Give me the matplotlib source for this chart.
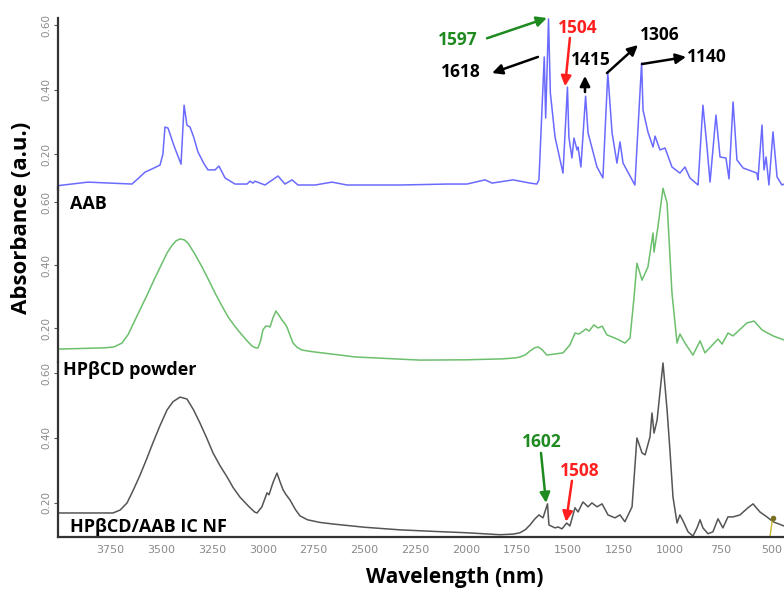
import matplotlib
matplotlib.use("Agg")
import matplotlib.pyplot as plt

plt.rcParams['font.family'] = ['Open Sans', 'DejaVu Sans']

# AAB spectrum (wavenumber, absorbance)
aab_x = [4005, 3858, 3642, 3610, 3578, 3540, 3504, 3490, 3480, 3465, 3435, 3401, 3386, 3372, 3357, 3340,
         3318, 3290, 3269, 3234, 3215, 3185, 3136, 3077, 3062, 3048, 3038, 2989, 2925, 2891, 2856,
         2827, 2743, 2660, 2586, 2326, 2095, 1997, 1909, 1874, 1771, 1688, 1654, 1644, 1618, 1611,
         1597, 1588, 1565, 1526, 1504, 1497, 1482, 1472, 1457, 1452, 1438, 1415, 1403, 1359, 1330,
         1306, 1285, 1261, 1246, 1231, 1173, 1140, 1133, 1109, 1084, 1074, 1050, 1025, 991, 952,
         927, 903, 863, 839, 819, 804, 775, 755, 726, 711, 691, 672, 642, 574, 569, 549,
         539, 529, 515, 495, 475, 451, 441]
aab_y = [0.102, 0.113, 0.107, 0.125, 0.144, 0.155, 0.166, 0.200, 0.284, 0.281, 0.225, 0.169, 0.352, 0.290, 0.284, 0.255,
         0.207, 0.172, 0.151, 0.151, 0.163, 0.126, 0.107, 0.107, 0.116, 0.110, 0.116, 0.104, 0.132, 0.107, 0.120,
         0.104, 0.104, 0.113, 0.104, 0.104, 0.107, 0.107, 0.120, 0.110, 0.120, 0.110, 0.107, 0.120, 0.502, 0.312,
         0.620, 0.390, 0.253, 0.141, 0.408, 0.253, 0.188, 0.250, 0.213, 0.222, 0.160, 0.380, 0.266, 0.160, 0.126,
         0.452, 0.266, 0.172, 0.238, 0.172, 0.104, 0.483, 0.337, 0.269, 0.222, 0.256, 0.213, 0.219, 0.160, 0.141,
         0.160, 0.126, 0.104, 0.352, 0.222, 0.113, 0.321, 0.191, 0.188, 0.123, 0.362, 0.182, 0.157, 0.141, 0.120, 0.290,
         0.151, 0.191, 0.104, 0.269, 0.129, 0.104, 0.107]

# HPbCD powder spectrum
cd_x = [4005, 3774, 3730, 3691, 3660, 3627, 3595, 3563, 3530, 3494, 3470, 3445, 3425, 3406, 3385,
        3367, 3335, 3298, 3265, 3234, 3200, 3170, 3135, 3102, 3075, 3053, 3035, 3023, 3010, 2999,
        2985, 2974, 2964, 2950, 2935, 2920, 2905, 2890, 2881, 2865, 2851, 2830, 2807, 2760, 2709,
        2620, 2547, 2449, 2228, 2000, 1821, 1760, 1737, 1710, 1688, 1665, 1649, 1630, 1605, 1526,
        1492, 1467, 1447, 1413, 1398, 1374, 1354, 1334, 1310, 1271, 1251, 1222, 1197, 1177, 1163,
        1138, 1109, 1084, 1079, 1060, 1035, 1015, 991, 966, 952, 927, 888, 853, 829, 765, 745,
        716, 691, 623, 588, 549, 495, 441]
cd_y = [0.133, 0.137, 0.140, 0.152, 0.180, 0.225, 0.268, 0.311, 0.358, 0.406, 0.438, 0.463, 0.477, 0.483, 0.480,
        0.470, 0.437, 0.394, 0.352, 0.311, 0.270, 0.235, 0.204, 0.178, 0.158, 0.143, 0.137, 0.137, 0.160, 0.194,
        0.206, 0.206, 0.203, 0.232, 0.254, 0.240, 0.225, 0.213, 0.203, 0.175, 0.152, 0.138, 0.130, 0.125, 0.121,
        0.114, 0.108, 0.105, 0.098, 0.099, 0.102, 0.105, 0.108, 0.115, 0.127, 0.137, 0.140, 0.132, 0.114, 0.121,
        0.146, 0.184, 0.181, 0.197, 0.190, 0.210, 0.200, 0.206, 0.178, 0.168, 0.162, 0.152, 0.168, 0.298, 0.406,
        0.352, 0.394, 0.502, 0.441, 0.521, 0.644, 0.597, 0.311, 0.152, 0.181, 0.152, 0.114, 0.159, 0.121, 0.165, 0.149,
        0.184, 0.175, 0.216, 0.222, 0.194, 0.175, 0.162]

# HPbCD/AAB IC NF spectrum
ic_x = [4005, 3735, 3700, 3666, 3635, 3602, 3570, 3539, 3505, 3470, 3440, 3406, 3372, 3340, 3308,
        3275, 3244, 3210, 3175, 3145, 3112, 3070, 3040, 3028, 3004, 2979, 2969, 2950, 2930, 2915,
        2900, 2885, 2866, 2840, 2817, 2780, 2720, 2655, 2500, 2326, 2150, 1997, 1835, 1770, 1737,
        1710, 1688, 1665, 1644, 1624, 1602, 1595, 1565, 1550, 1531, 1508, 1492, 1467, 1452, 1428,
        1403, 1384, 1359, 1334, 1305, 1271, 1246, 1222, 1187, 1173, 1163, 1138, 1123, 1099, 1089,
        1079, 1064, 1035, 1015, 1001, 986, 966, 952, 937, 912, 888, 868, 853, 839, 814, 790,
        765, 741, 716, 691, 657, 618, 593, 559, 525, 495, 441]
ic_y = [0.169, 0.169, 0.178, 0.200, 0.240, 0.286, 0.335, 0.385, 0.437, 0.486, 0.512, 0.526, 0.520, 0.487, 0.446,
        0.400, 0.354, 0.315, 0.280, 0.247, 0.218, 0.190, 0.172, 0.169, 0.188, 0.231, 0.225, 0.262, 0.292, 0.265,
        0.240, 0.225, 0.209, 0.180, 0.160, 0.148, 0.140, 0.135, 0.125, 0.117, 0.112, 0.108, 0.102, 0.104, 0.108,
        0.118, 0.132, 0.150, 0.163, 0.154, 0.197, 0.132, 0.123, 0.126, 0.120, 0.138, 0.129, 0.185, 0.172, 0.203,
        0.188, 0.200, 0.188, 0.197, 0.163, 0.154, 0.163, 0.142, 0.188, 0.311, 0.400, 0.354, 0.348, 0.403, 0.477,
        0.415, 0.455, 0.631, 0.486, 0.363, 0.218, 0.138, 0.163, 0.145, 0.111, 0.098, 0.123, 0.148, 0.123, 0.105, 0.111,
        0.151, 0.123, 0.157, 0.157, 0.163, 0.185, 0.197, 0.172, 0.157, 0.142, 0.129]

names = ['AAB', 'HPβCD powder', 'HPβCD/AAB IC NF']
colors = ['#6a6aff', '#6cbf6c', '#555555']
yticks = [0.20, 0.40, 0.60]
xticks = [3750, 3500, 3250, 3000, 2750, 2500, 2250, 2000, 1750, 1500, 1250, 1000, 750, 500]

fig = plt.figure(figsize=(7.84, 5.90), dpi=100)
W, H = 784, 590

def px_axes(top, bottom):
    return fig.add_axes([58 / W, (H - bottom) / H, (W - 58) / W, (bottom - top) / H])

ax1 = px_axes(18, 190)
ax2 = px_axes(187, 362)
ax3 = px_axes(362, 537)
axes = [ax1, ax2, ax3]
ylims = [(0.0885, 0.623), (0.092, 0.648), (0.095, 0.634)]
series = [(aab_x, aab_y), (cd_x, cd_y), (ic_x, ic_y)]

for ax, (xs, ys), c, yl in zip(axes, series, colors, ylims):
    ax.patch.set_alpha(0)
    ax.plot(xs, ys, color=c, lw=1.1, clip_on=False)
    ax.set_xlim(4005, 441)
    ax.set_ylim(*yl)
    for s in ['top', 'right', 'bottom']:
        ax.spines[s].set_visible(False)
    ax.spines['left'].set_linewidth(1.6)
    ax.spines['left'].set_color('#333333')
    ax.set_yticks(yticks)
    ax.set_yticklabels(['%.2f' % v for v in yticks], rotation=90, va='center',
                       color='#8a8a8a', fontsize=7.5, family='DejaVu Sans')
    ax.tick_params(axis='y', length=3, width=0.8, color='#555555', pad=2)
    ax.set_xticks([])

ax3.spines['bottom'].set_visible(True)
ax3.spines['bottom'].set_linewidth(1.6)
ax3.spines['bottom'].set_color('#333333')
ax3.set_xticks(xticks)
ax3.set_xticklabels([str(v) for v in xticks], color='#8a8a8a', fontsize=8, family='DejaVu Sans')
ax3.tick_params(axis='x', length=0, pad=6)

# small olive marker near 500
ax3.plot([497, 510], [0.154, 0.095], color='#c9b830', lw=1.0, clip_on=False)
ax3.plot([497], [0.154], 'o', color='#7a7020', ms=3, clip_on=False)

# panel labels
fig.text(70 / W, 1 - 204 / H, names[0], fontsize=13, fontweight='bold', va='center')
fig.text(63 / W, 1 - 370 / H, names[1], fontsize=13, fontweight='bold', va='center')
fig.text(70 / W, 1 - 527 / H, names[2], fontsize=13, fontweight='bold', va='center')

fig.text(22 / W, 1 - 218 / H, 'Absorbance (a.u.)', rotation=90, fontsize=16,
         fontweight='bold', ha='center', va='center')
fig.text(455 / W, 1 - 577 / H, 'Wavelength (nm)', fontsize=15,
         fontweight='bold', ha='center', va='center')

green = '#1f8a1f'
red = '#ff1f1f'

def arrow(ax, tail, head, col):
    ax.annotate('', xy=head, xytext=tail, annotation_clip=False,
                arrowprops=dict(arrowstyle='-|>', color=col, lw=1.8,
                                mutation_scale=15, shrinkA=0, shrinkB=0))

def label(ax, pos, s, col):
    ax.text(pos[0], pos[1], s, color=col, fontsize=12.5, fontweight='bold',
            ha='center', va='center', clip_on=False)

label(ax1, (2041, 0.554), '1597', green)
arrow(ax1, (1899, 0.560), (1605, 0.623), green)
label(ax1, (1452, 0.592), '1504', red)
arrow(ax1, (1492, 0.561), (1516, 0.411), red)
label(ax1, (2027, 0.455), '1618', 'black')
arrow(ax1, (1649, 0.502), (1874, 0.452), 'black')
label(ax1, (1388, 0.492), '1415', 'black')
arrow(ax1, (1418, 0.393), (1418, 0.443), 'black')
label(ax1, (1050, 0.570), '1306', 'black')
arrow(ax1, (1310, 0.452), (1158, 0.539), 'black')
label(ax1, (819, 0.502), '1140', 'black')
arrow(ax1, (1138, 0.480), (922, 0.502), 'black')

label(ax3, (1629, 0.388), '1602', green)
arrow(ax3, (1634, 0.354), (1609, 0.200), green)
label(ax3, (1442, 0.298), '1508', red)
arrow(ax3, (1482, 0.268), (1511, 0.142), red)

fig.savefig('out.png', dpi=100)
